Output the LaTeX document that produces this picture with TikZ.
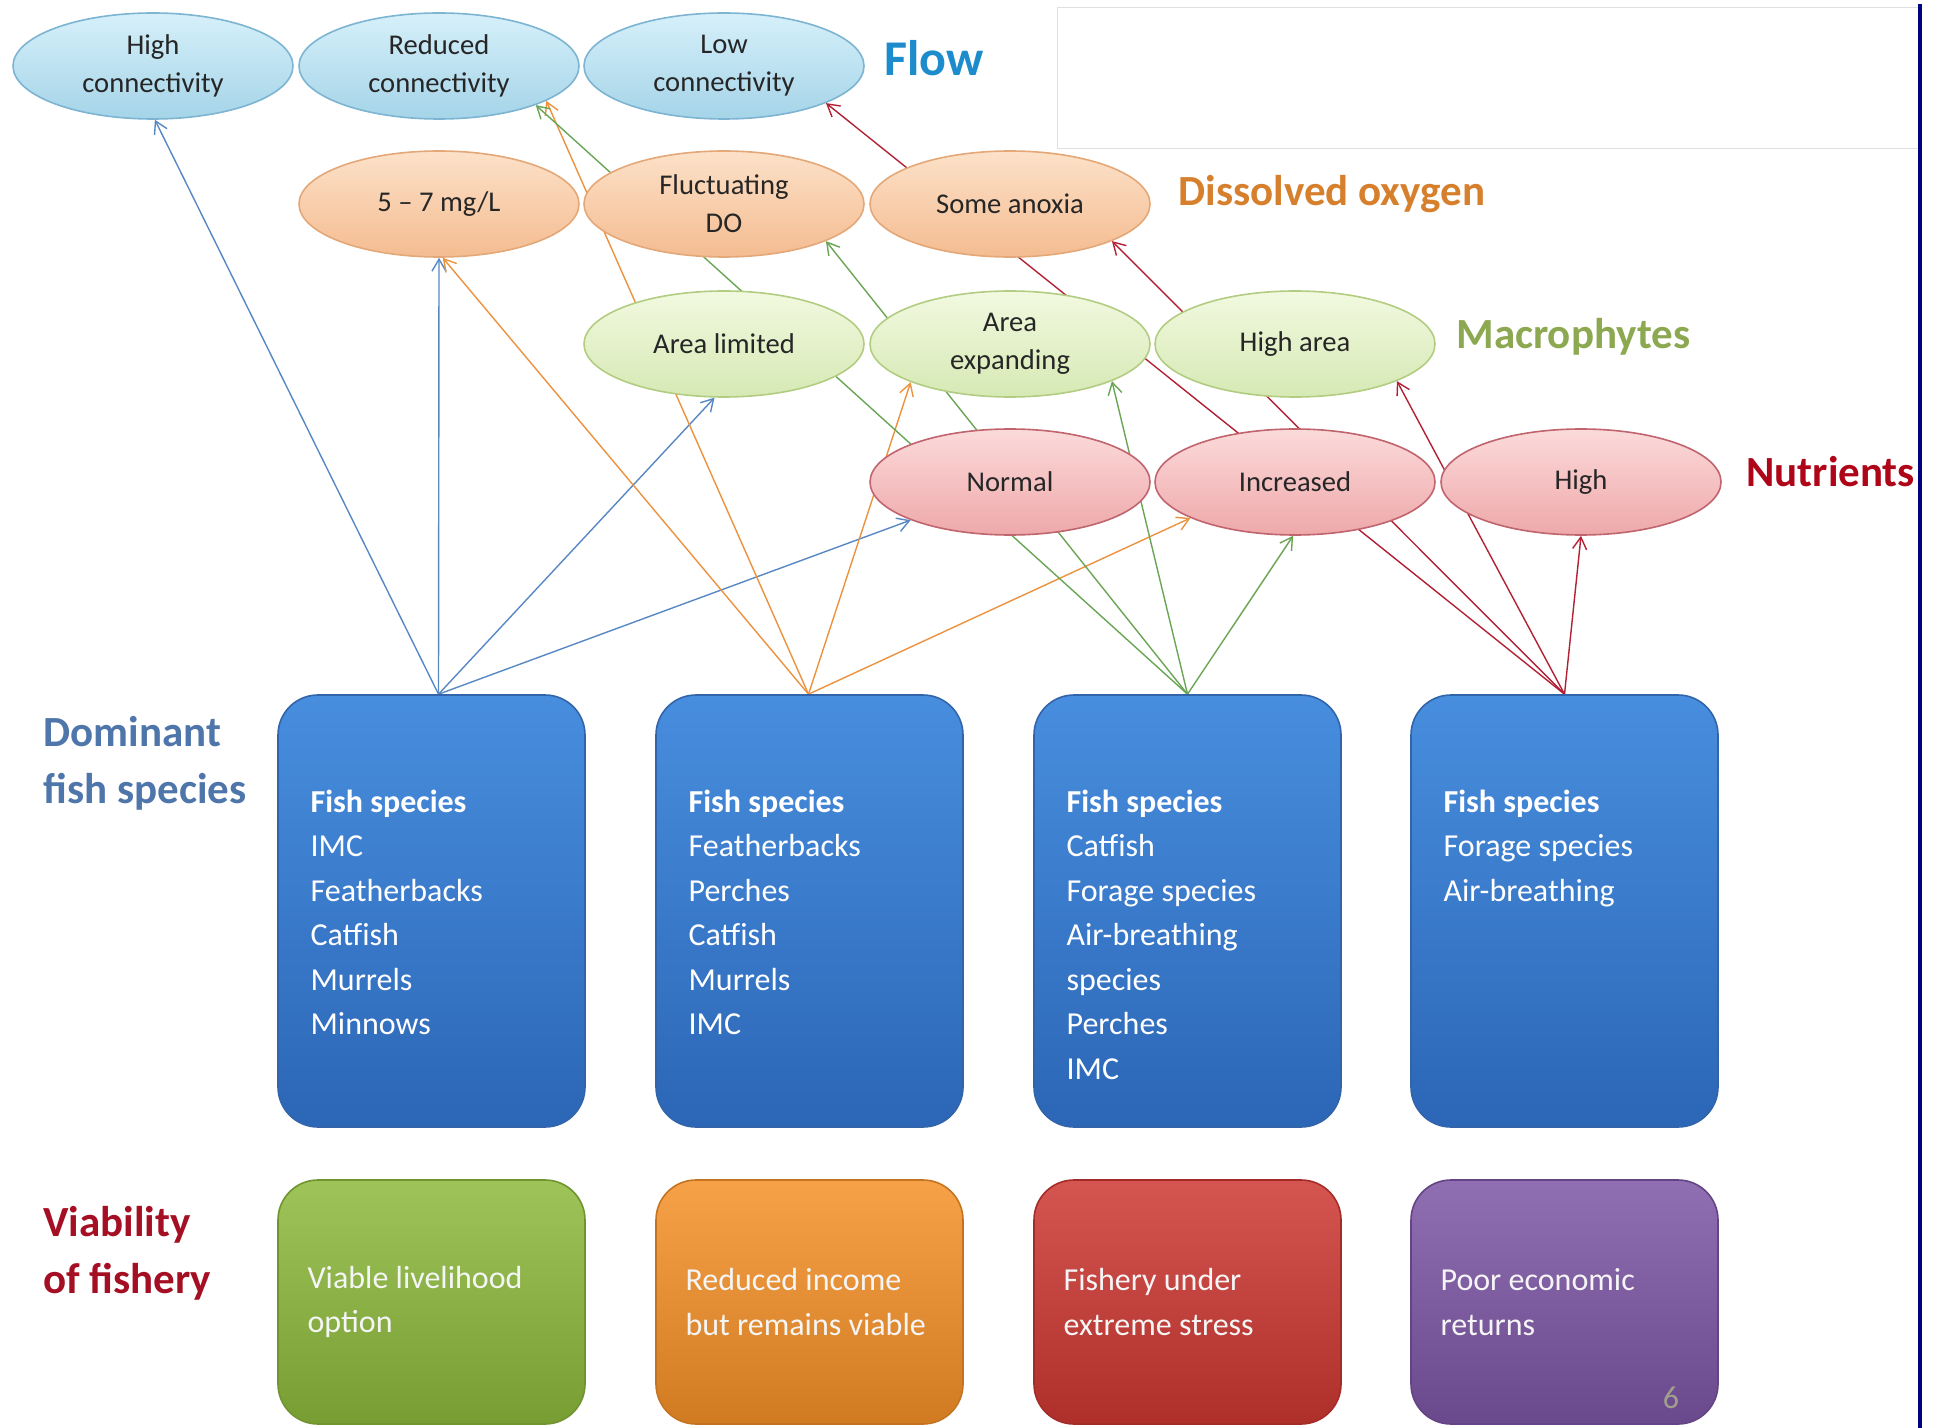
\documentclass[tikz,border=0pt]{standalone}
\usepackage{fontspec}
\setmainfont{Carlito}
\usetikzlibrary{shapes.geometric,backgrounds,arrows.meta,positioning}

\definecolor{flowtop}{RGB}{214,240,250}
\definecolor{flowbot}{RGB}{165,212,232}
\definecolor{flowedge}{RGB}{125,180,210}
\definecolor{oxytop}{RGB}{252,225,200}
\definecolor{oxybot}{RGB}{244,188,145}
\definecolor{oxyedge}{RGB}{228,168,120}
\definecolor{mactop}{RGB}{242,249,224}
\definecolor{macbot}{RGB}{214,233,180}
\definecolor{macedge}{RGB}{178,205,130}
\definecolor{nuttop}{RGB}{252,218,218}
\definecolor{nutbot}{RGB}{238,168,170}
\definecolor{nutedge}{RGB}{192,100,110}
\definecolor{fishtop}{RGB}{72,142,222}
\definecolor{fishbot}{RGB}{44,102,182}
\definecolor{fishedge}{RGB}{50,100,170}

\definecolor{flowhead}{RGB}{28,140,205}
\definecolor{oxyhead}{RGB}{214,128,45}
\definecolor{machead}{RGB}{140,168,80}
\definecolor{nuthead}{RGB}{175,5,25}
\definecolor{fishhead}{RGB}{78,118,170}
\definecolor{livehead}{RGB}{165,15,35}
\definecolor{pagegray}{RGB}{160,160,140}

\definecolor{bluelink}{RGB}{88,136,196}
\definecolor{orangelink}{RGB}{236,146,62}
\definecolor{greenlink}{RGB}{105,165,85}
\definecolor{redlink}{RGB}{178,32,52}

\definecolor{livegreen}{RGB}{140,185,60}
\definecolor{liveorange}{RGB}{245,145,40}
\definecolor{livered}{RGB}{205,55,50}
\definecolor{livepurple}{RGB}{125,85,165}

\tikzset{
  bubble/.style={ellipse, minimum width=140pt, minimum height=53pt, inner sep=0pt,
    line width=0.8pt, align=center, text=black!85,
    font=\fontsize{14.3}{19}\selectfont},
  flowoval/.style={bubble, draw=flowedge, top color=flowtop, bottom color=flowbot},
  oxyoval/.style={bubble, draw=oxyedge, top color=oxytop, bottom color=oxybot},
  macoval/.style={bubble, draw=macedge, top color=mactop, bottom color=macbot},
  nutoval/.style={bubble, draw=nutedge, top color=nuttop, bottom color=nutbot},
  fishbox/.style={rounded corners=20pt, minimum width=153.5pt, minimum height=216pt,
    draw=fishedge, top color=fishtop, bottom color=fishbot, line width=0.8pt},
  boxtxt/.style={align=left, inner sep=0pt, font=\fontsize{16}{22.25}\selectfont},
  fishtxt/.style={boxtxt, text=white},
  livetxt/.style={boxtxt, text=white!92!gray},
  livebox/.style={rounded corners=20pt, minimum width=153.5pt, minimum height=122pt,
    line width=0.8pt, draw=#1!80!black, top color=#1!85!white, bottom color=#1!85!black},
  head/.style={anchor=west, inner sep=0pt, align=left,
    font=\bfseries\fontsize{21.5}{28.5}\selectfont},
  link/.style={-{Straight Barb[length=6pt,width=7pt]}, line width=0.7pt},
}

\begin{document}
\begin{tikzpicture}[x=0.5pt, y=-0.5pt]
  \useasboundingbox (0,0) rectangle (1938,1428);
  \draw[black!12] (1057,7) rectangle (1918,148);
  \draw[blue!50!black, line width=2pt] (1920,4) -- (1920,1428);

  % flow
  \node[flowoval] (hc) at (153,66) {High\\connectivity};
  \node[flowoval] (rc) at (439,66) {Reduced\\connectivity};
  \node[flowoval] (lc) at (724,66) {Low\\connectivity};
  \node[head, text=flowhead, font=\bfseries\fontsize{25}{30}\selectfont] (flowlbl) at (884,58) {Flow};

  % dissolved oxygen
  \node[oxyoval] (do1) at (439,204) {5 -- 7 mg/L};
  \node[oxyoval] (do2) at (724,204) {Fluctuating\\DO};
  \node[oxyoval] (do3) at (1010,204) {Some anoxia};
  \node[head, text=oxyhead] (oxylbl) at (1178,194) {Dissolved oxygen};

  % macrophytes
  \node[macoval] (ma1) at (724,344) {Area limited};
  \node[macoval] (ma2) at (1010,344) {Area\\expanding};
  \node[macoval] (ma3) at (1295,344) {High area};
  \node[head, text=machead] (maclbl) at (1456,337) {Macrophytes};

  % nutrients
  \node[nutoval] (nu1) at (1010,482) {Normal};
  \node[nutoval] (nu2) at (1295,482) {Increased};
  \node[nutoval] (nu3) at (1581,482) {High};
  \node[head, text=nuthead] (nutlbl) at (1746,472) {Nutrients};

  % fish species
  \node[head, text=fishhead] (fishlbl) at (43,763) {Dominant\\fish species};
  \node[fishbox] (f1) at (431.5,911) {};
  \node[fishbox] (f2) at (809.5,911) {};
  \node[fishbox] (f3) at (1187.5,911) {};
  \node[fishbox] (f4) at (1564.5,911) {};
  \node[fishtxt, below right=47.5pt and 16.5pt of f1.north west] (t1)
    {\textbf{Fish species}\\IMC\\Featherbacks\\Catfish\\Murrels\\Minnows};
  \node[fishtxt, below right=47.5pt and 16.5pt of f2.north west] (t2)
    {\textbf{Fish species}\\Featherbacks\\Perches\\Catfish\\Murrels\\IMC};
  \node[fishtxt, below right=47.5pt and 16.5pt of f3.north west] (t3)
    {\textbf{Fish species}\\Catfish\\Forage species\\Air-breathing\\species\\Perches\\IMC};
  \node[fishtxt, below right=47.5pt and 16.5pt of f4.north west] (t4)
    {\textbf{Fish species}\\Forage species\\Air-breathing};

  % viability
  \node[head, text=livehead] (livelbl) at (43,1253) {Viability\\of fishery};
  \node[livebox=livegreen] (v1) at (431.5,1302) {};
  \node[livebox=liveorange] (v2) at (809.5,1302) {};
  \node[livebox=livered] (v3) at (1187.5,1302) {};
  \node[livebox=livepurple] (v4) at (1564.5,1302) {};
  \node[livetxt, right=15pt of v1.west] (l1) {Viable livelihood\\option};
  \node[livetxt, right=15pt of v2.west] (l2) {Reduced income\\but remains viable};
  \node[livetxt, right=15pt of v3.west] (l3) {Fishery under\\extreme stress};
  \node[livetxt, right=15pt of v4.west] (l4) {Poor economic\\returns};
  \node[text=pagegray, font=\fontsize{16}{18}\selectfont] (pg) at (1671,1398) {6};

  \coordinate (s1) at ([xshift=3.5pt]f1.north);
  \coordinate (s2) at ([xshift=-0.5pt]f2.north);
  \coordinate (s3) at (f3.north);
  \coordinate (s4) at (f4.north);

  \begin{scope}[on background layer]
    \draw[link, bluelink] (s1) -- (hc.-88);
    \draw[link, bluelink] (s1) -- (do1.-90);
    \draw[link, bluelink] (s1) -- (ma1.-100);
    \draw[link, bluelink] (s1) -- (nu1.-159);
    \draw[link, orangelink] (s2) -- (rc.-18);
    \draw[link, orangelink] (s2) -- (do1.-86);
    \draw[link, orangelink] (s2) -- (ma2.-159);
    \draw[link, orangelink] (s2) -- (nu2.-161);
    \draw[link, greenlink] (s3) -- (rc.-22);
    \draw[link, greenlink] (s3) -- (do2.-20);
    \draw[link, greenlink] (s3) -- (ma2.-20);
    \draw[link, greenlink] (s3) -- (nu2.-92);
    \draw[link, redlink] (s4) -- (lc.-20);
    \draw[link, redlink] (s4) -- (do3.-20);
    \draw[link, redlink] (s4) -- (ma3.-20);
    \draw[link, redlink] (s4) -- (nu3.-90);
  \end{scope}
\end{tikzpicture}
\end{document}
